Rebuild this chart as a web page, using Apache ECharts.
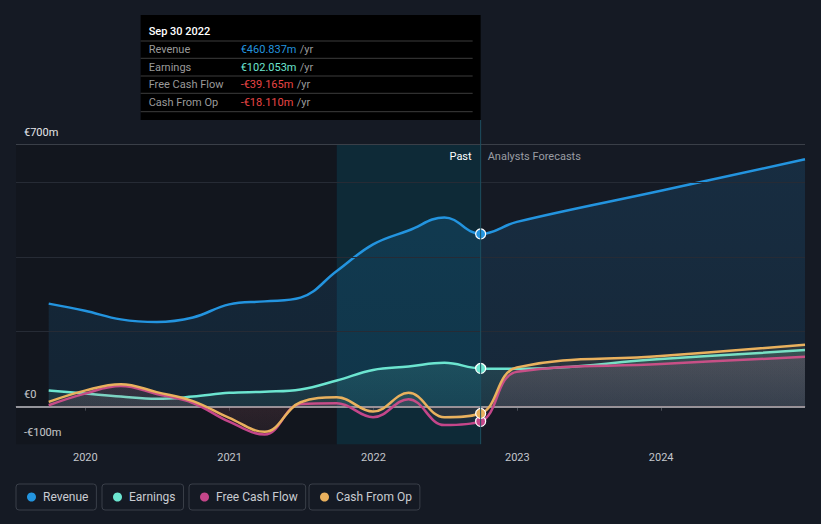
<!DOCTYPE html>
<html><head><meta charset="utf-8">
<script src="https://cdn.jsdelivr.net/npm/echarts@6/dist/echarts.min.js"></script>
<style>html,body{margin:0;padding:0;background:#151a24;}#c{width:821px;height:524px;}</style>
</head><body><div id="c"></div>
<script>
// ---- data (values in € millions) ----
const dates = ['2019-09-30','2019-12-31','2020-03-31','2020-06-30','2020-09-30','2020-12-31','2021-03-31','2021-06-30','2021-09-30','2021-12-31','2022-03-31','2022-06-30','2022-09-30','2022-12-31','2023-12-31','2024-12-31'];
const revenue      = [275, 256, 233, 226, 238, 273, 281, 291, 362, 433, 470, 505, 460.837, 493, 576, 660];
const earnings     = [43, 35, 27, 21, 27, 37, 40, 46, 70, 98, 107, 117, 102.053, 101, 127, 151];
const freeCashFlow = [4, 35, 55, 34, 10, -40, -74, 7, 9, -28, 20, -49, -39.165, 93, 114, 133];
const cashFromOp   = [13, 43, 60, 39, 15, -30, -67, 12, 25, -13, 37, -28, -18.110, 105, 135, 165];
const seriesNames  = ['Revenue', 'Earnings', 'Free Cash Flow', 'Cash From Op'];
const yearTicks    = ['2020-01-01','2021-01-01','2022-01-01','2023-01-01','2024-01-01'];
const yLabelValues = [-100, 0, 700];
const gridValues   = [200, 400, 600, 700];
const axisRange    = ['2019-07-09', '2024-12-31'];
const highlightStart = '2021-09-30';
const pastEnd      = '2022-09-30';
const tooltipTitle = 'Sep 30 2022';
const pastLabel = 'Past', forecastLabel = 'Analysts Forecasts';

// ---- helpers ----
const t = s => { const [y, m, d] = s.split('-').map(Number); return new Date(y, m - 1, d).getTime(); };
const colors = ['#2394df', '#6ce5d0', '#c4468a', '#e9b15e'];
const FONT = 'Roboto, "Noto Sans", sans-serif';
const chart = echarts.init(document.getElementById('c'), null, {renderer: 'svg', width: 821, height: 524});

function grad(color, a1, a2) {
  const c = echarts.color.parse(color);
  return new echarts.graphic.LinearGradient(0, 0, 0, 1, [
    {offset: 0, color: `rgba(${c[0]},${c[1]},${c[2]},${a1})`},
    {offset: 1, color: `rgba(${c[0]},${c[1]},${c[2]},${a2})`}
  ]);
}

function mk(idx, arr, area) {
  const color = colors[idx];
  return {
    type: 'line', name: seriesNames[idx], smooth: 0.4,
    symbol: 'none', showSymbol: true, z: 3 + idx,
    lineStyle: {color, width: 2.5}, itemStyle: {color},
    emphasis: {disabled: true},
    areaStyle: area,
    data: dates.map((d, i) => {
      const item = {value: [t(d), arr[i]]};
      if (d === pastEnd) {
        item.symbol = 'circle'; item.symbolSize = 10;
        item.itemStyle = {color, borderColor: '#ffffff', borderWidth: 1.2};
      }
      return item;
    })
  };
}

const series = [
  mk(0, revenue, {color: grad(colors[0], 0.22, 0.16)}),
  mk(1, earnings, {color: grad(colors[1], 0.22, 0.12)}),
  mk(2, freeCashFlow, {color: grad(colors[2], 0.2, 0.08)}),
  mk(3, cashFromOp, {color: grad(colors[3], 0.15, 0.05)})
];
series[0].markArea = {
  silent: true,
  data: [
    [{xAxis: t(axisRange[0]), itemStyle: {color: 'rgba(0,0,0,0.14)'}}, {xAxis: t(highlightStart)}],
    [{xAxis: t(highlightStart), itemStyle: {color: 'rgba(0,80,100,0.3)'}}, {xAxis: t(pastEnd)}]
  ]
};
series.push({
  type: 'line', name: '_grid', data: [], silent: true, z: 1,
  markLine: {silent: true, symbol: 'none', label: {show: false},
    data: gridValues.map(v => ({yAxis: v, lineStyle: {color: v === 700 ? '#3a3f48' : '#262b35', width: 1, type: 'solid'}}))}
});
series.push({
  type: 'line', name: '_zero', data: [], silent: true, z: 20,
  markLine: {silent: true, symbol: 'none', label: {show: false},
    data: [{yAxis: 0, lineStyle: {color: '#94949a', width: 2, type: 'solid'}}]}
});

const legendLefts = [16, 102, 189, 309];
const legends = seriesNames.map((n, i) => ({
  data: [n], left: legendLefts[i], top: 484, icon: 'circle', itemWidth: 9, itemHeight: 9,
  padding: [7, 8, 7, 11], borderColor: '#3a3f49', borderWidth: 1, borderRadius: 3,
  textStyle: {color: '#c9ccd1', fontSize: 12, fontFamily: FONT, padding: [0, 0, 0, 2]},
  selectedMode: false
}));

chart.setOption({
  backgroundColor: '#151a24',
  animation: false,
  grid: {left: 16, right: 16, top: 144.3, bottom: 79.8, containLabel: false},
  legend: legends,
  tooltip: {show: false},
  xAxis: {
    type: 'value', min: t(axisRange[0]), max: t(axisRange[1]),
    axisLine: {show: true, lineStyle: {color: '#3c414a', width: 1}},
    axisTick: {show: true, length: 4, lineStyle: {color: '#4a4f58'}, customValues: yearTicks.map(t)},
    axisLabel: {customValues: yearTicks.map(t), color: '#c3c6cc', fontSize: 11, fontFamily: FONT, margin: 8,
      formatter: v => String(new Date(v).getFullYear())},
    splitLine: {show: false}
  },
  yAxis: {
    type: 'value', min: -100, max: 700,
    axisLine: {show: false}, axisTick: {show: false}, splitLine: {show: false},
    axisLabel: {customValues: yLabelValues, inside: true, margin: 8, verticalAlign: 'bottom', align: 'left',
      color: '#e6e7ea', fontSize: 11, fontFamily: FONT, lineHeight: 12, padding: [0, 0, 6, 0],
      formatter: v => v === 0 ? '€0' : (v < 0 ? '-€' + Math.abs(v) + 'm' : '€' + v + 'm')}
  },
  series
});

// ---- overlay annotations derived from the axes ----
const xp = chart.convertToPixel({xAxisIndex: 0}, t(pastEnd));
const yTop = chart.convertToPixel({yAxisIndex: 0}, 700);
const yBot = chart.convertToPixel({yAxisIndex: 0}, -100);
const idx = dates.indexOf(pastEnd);
const vals = [revenue[idx], earnings[idx], freeCashFlow[idx], cashFromOp[idx]];
const fmt = v => (v < 0 ? '-€' : '€') + Math.abs(v).toFixed(3) + 'm';
const boxW = 340, boxTop = 15, boxH = 105, boxL = xp - boxW;
const g = [
  {type: 'line', shape: {x1: xp, y1: boxTop + boxH, x2: xp, y2: yBot}, style: {stroke: '#1d4f60', lineWidth: 1}, z: 30, silent: true},
  {type: 'rect', shape: {x: boxL, y: boxTop, width: boxW, height: boxH}, style: {fill: '#000000'}, z: 40, silent: true},
  {type: 'text', x: boxL + 8, y: boxTop + 16, style: {text: tooltipTitle, fill: '#ffffff', font: '500 11px ' + FONT, verticalAlign: 'middle'}, z: 41},
  {type: 'text', x: xp - 9, y: yTop + 12, style: {text: pastLabel, fill: '#ffffff', font: '11px ' + FONT, align: 'right', verticalAlign: 'middle'}, z: 41},
  {type: 'text', x: xp + 7, y: yTop + 12, style: {text: forecastLabel, fill: '#9a9da3', font: '11px ' + FONT, align: 'left', verticalAlign: 'middle'}, z: 41}
];
const sepY = [41, 58.3, 76, 93.3, 111.7];
sepY.forEach(y => g.push({type: 'line', shape: {x1: boxL, y1: y, x2: xp - 8, y2: y}, style: {stroke: '#3d3d3d', lineWidth: 1}, z: 41, silent: true}));
seriesNames.forEach((n, i) => {
  const cy = (sepY[i] + sepY[i + 1]) / 2;
  const vColor = vals[i] < 0 ? '#e94545' : colors[i];
  g.push({type: 'text', x: boxL + 8, y: cy, style: {text: n, fill: '#9a9a9a', font: '11px ' + FONT, verticalAlign: 'middle'}, z: 41});
  g.push({type: 'text', x: boxL + 100, y: cy, style: {
    text: '{v|' + fmt(vals[i]) + '} {u|/yr}', verticalAlign: 'middle',
    rich: {v: {fill: vColor, font: '11px ' + FONT}, u: {fill: '#9a9a9a', font: '11px ' + FONT}}}, z: 41});
});
chart.setOption({graphic: g});
</script></body></html>
